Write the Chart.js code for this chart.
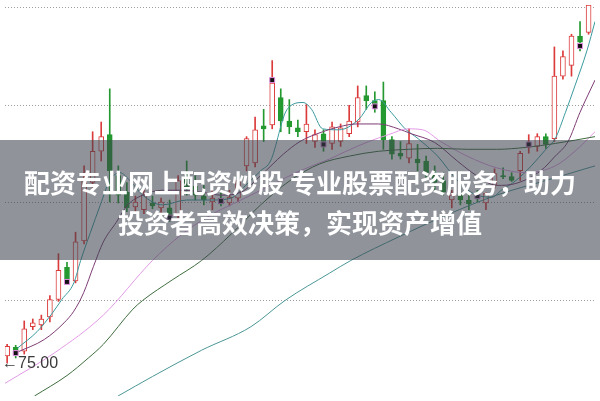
<!DOCTYPE html>
<html>
<head>
<meta charset="utf-8">
<script src="https://cdn.jsdelivr.net/npm/chart.js@4/dist/chart.umd.min.js"></script>
<style>
  html, body { margin: 0; padding: 0; background: #fff; }
  #wrap { position: relative; width: 600px; height: 401px; overflow: hidden; }
  #banner {
    position: absolute; left: 0; top: 140px; width: 600px; height: 120px;
    box-sizing: border-box; padding-top: 22px;
    background: rgba(60, 66, 77, 0.57); color: #fff;
    font: bold 26px "Noto Sans CJK SC", sans-serif; line-height: 39.5px; text-align: center;
  }
  #lowLabel { position: absolute; left: 2px; top: 358px; font: 16px "Liberation Sans", Arial, sans-serif; color: #3a3a3a; white-space: nowrap; }
</style>
</head>
<body>
<div id="wrap">
  <canvas id="kChart"></canvas>
  <div id="banner">配资专业网上配资炒股 专业股票配资服务，助力<br>投资者高效决策，实现资产增值</div>
  <div id="lowLabel"></div>
</div>
<script>
const opens  = [75.35,75.8,75.6,76.85,76.95,77.35,78.25,79.9,79.2,81.25,84.25,85.85,86.7,84.6,83.75,83.0,82.85,83.2,82.95,82.95,82.65,84.6,84.05,83.55,83.25,83.45,83.2,83.45,85.1,85.25,87.15,87.2,88.6,87.4,87.05,86.85,86.35,86.75,86.25,86.35,86.75,87.35,88.7,88.45,88.45,86.45,85.75,85.5,85.45,85.35,84.75,84.35,83.35,83.6,83.35,83.6,83.2,84.1,84.6,84.55,84.85,86.05,86.1,86.6,86.5,89.7,90.25,91.75,91.95];
const highs  = [75.95,75.9,77.15,77.25,77.45,78.45,80.6,80.15,81.7,85.1,86.85,87.35,89.05,85.1,84.25,83.55,83.85,83.55,83.45,83.35,84.6,85.35,84.6,84.1,83.85,83.75,83.85,84.6,86.6,87.6,88.0,90.5,89.05,88.5,87.45,88.25,86.95,86.95,87.35,87.25,88.2,89.2,89.2,88.9,89.4,86.6,86.35,87.0,86.2,85.6,85.1,84.75,83.85,83.95,83.75,83.85,83.75,84.95,85.0,84.75,85.85,86.7,86.75,86.75,91.2,91.0,91.85,92.5,93.6];
const lows   = [75.0,75.25,75.45,76.7,76.7,77.1,78.15,79.05,79.1,81.1,83.85,85.35,83.25,83.2,82.75,82.75,82.65,82.9,82.65,82.25,82.45,83.6,83.35,83.1,82.85,83.05,83.05,83.25,84.85,85.05,86.35,87.0,86.85,86.75,86.6,86.25,86.05,85.85,85.95,86.1,86.6,87.1,88.0,87.85,85.95,85.45,85.45,85.25,84.85,84.45,83.85,83.6,82.95,83.1,82.85,83.25,82.85,83.95,84.45,84.3,84.35,85.75,85.85,86.0,86.35,89.55,89.7,91.0,91.85];
const closes = [75.85,75.55,76.75,77.05,77.25,78.25,79.75,79.3,81.2,84.35,85.85,86.6,84.85,83.6,82.95,83.25,83.6,83.05,83.25,82.55,84.35,83.95,83.6,83.35,83.45,83.15,83.5,84.35,86.5,86.95,87.0,89.35,87.4,87.1,86.85,87.25,86.7,86.35,87.1,87.05,87.4,88.6,88.45,88.25,86.45,85.7,85.6,86.25,85.25,84.75,84.25,83.75,83.6,83.35,83.15,83.4,83.7,84.7,84.55,84.35,85.75,86.25,86.6,86.2,89.7,90.7,91.75,91.45,93.35];

// moving averages: [day, price]
const ma5 = [[1.2,75.75],[3.5,76.6],[5.2,77.5],[6.4,78.25],[7.8,79.1],[8.6,80.25],[9.75,81.7],[10.9,83.1],[12,84.35],[13.2,84.75],[14.35,84.35],[15.85,83.6],[18.15,83.1],[21,83.35],[23.9,83.35],[26.2,83.45],[27.9,84.1],[29.65,84.85],[30.8,85.35],[32.75,88.0],[34.6,88.35],[35.6,88.0],[36.9,87.0],[38.8,86.95],[41.15,87.5],[42.6,88.35],[43.45,88.5],[44.9,87.85],[46.55,87.0],[48.05,86.5],[50.35,85.6],[52.65,84.35],[54.9,83.6],[56.7,83.5],[57.8,83.85],[59.5,84.35],[61.3,85.1],[63,85.95],[64.1,86.5],[65.3,87.85],[66.4,89.2],[67.8,91.0],[68.75,92.5]];
const ma10 = [[1.2,75.55],[4.35,76.2],[6.65,77.05],[7.8,77.65],[8.95,78.6],[10.1,79.95],[11.25,81.2],[12.75,82.2],[14.1,83.1],[15.85,83.6],[18.15,83.85],[20.45,83.85],[22.75,83.75],[25,83.6],[27.35,83.75],[29.65,84.6],[32.3,85.7],[34.25,86.35],[36.9,86.85],[38.8,87.1],[40.8,87.25],[43.45,87.25],[45.75,87.0],[47.25,86.75],[50,86.3],[52.65,85.35],[54.9,84.6],[57.25,84.1],[59.5,84.2],[62.4,84.85],[64.1,85.6],[65.6,86.35],[67,87.85],[68.75,89.5]];
const ma20 = [[-0.25,73.95],[5.5,75.5],[11.25,77.45],[17,80.25],[20.45,81.6],[23.9,82.6],[27.35,83.35],[30.8,84.1],[34.25,84.85],[37.7,85.45],[39.65,85.85],[42.3,86.35],[44.6,86.7],[46.9,87.0],[48.6,86.95],[50.7,86.35],[53.8,85.6],[57.25,85.0],[60.7,84.75],[64.1,85.1],[66.4,85.85],[68.75,86.85]];
const ma30 = [[3.2,73.3],[7,74.35],[9.5,75.25],[11.25,75.95],[14.7,77.75],[15.85,78.2],[19.3,79.25],[22.75,80.25],[26.2,81.6],[29.65,83.1],[33.1,84.35],[36.55,85.2],[40,85.6],[43.45,85.85],[46.9,85.95],[50.35,86.0],[53.8,85.95],[57.25,85.95],[60.7,86.05],[64.1,86.25],[68.75,86.6]];
const ma60 = [[12.97,73.3],[17,74.3],[22.75,75.65],[28.5,76.85],[32.5,78.2],[37.7,79.6],[40.2,80.25],[45.75,81.45],[51.5,82.6],[57.25,83.6],[63,84.35],[68.75,85.1]];

// signal markers: [day, price]
const signals = [[1,75.5],[7,79.15],[19,82.45],[25,83.3],[31,89.5],[37,86.2],[43,88.15],[55,83.55],[61,86.2],[67,91.25]];

const gridTicks = [78.2, 83.2, 88.2, 93.2];
const lowMark = Math.min(...lows);

const days = opens.map((_, i) => i);
const red = '#dc3b3b';
const green = '#23992f';
const isUp = i => closes[i] >= opens[i];

const lineSet = (data, color) => ({
    type: 'line',
    data: data.map(([x, y]) => ({ x, y })),
    borderColor: color,
    borderWidth: 1,
    pointRadius: 0,
    cubicInterpolationMode: 'monotone',
    order: 0
});

const labelPlugin = {
    id: 'lowLabel',
    afterDraw(chart) {
        const el = document.getElementById('lowLabel');
        el.textContent = '←' + lowMark.toFixed(2);
        const y = chart.scales.y.getPixelForValue(lowMark);
        el.style.top = (y - el.offsetHeight / 2) + 'px';
    }
};

new Chart(document.getElementById('kChart'), {
    type: 'bar',
    data: {
        datasets: [
            lineSet(ma60, '#4b9696'),
            lineSet(ma30, '#3e6d3e'),
            lineSet(ma20, '#e39ae6'),
            lineSet(ma10, '#7d3c74'),
            lineSet(ma5, '#3a9a9d'),
            {
                type: 'line',
                data: signals.map(([x, y]) => ({ x, y })),
                showLine: false,
                pointStyle: 'rect',
                pointRadius: 3.5,
                backgroundColor: '#111',
                borderColor: '#e08ce0',
                borderWidth: 1,
                order: -1
            },
            {
                data: days.map(i => ({ x: i, y: [opens[i], closes[i]] })),
                backgroundColor: days.map(i => isUp(i) ? '#ffffff' : green),
                borderColor: days.map(i => isUp(i) ? red : green),
                borderWidth: 1,
                borderSkipped: false,
                barThickness: 5,
                grouped: false,
                order: 1
            },
            {
                data: days.map(i => ({ x: i, y: [lows[i], highs[i]] })),
                backgroundColor: days.map(i => isUp(i) ? red : green),
                barThickness: 1,
                grouped: false,
                order: 2
            }
        ]
    },
    options: {
        responsive: true,
        maintainAspectRatio: false,
        animation: false,
        layout: { padding: 0 },
        plugins: { legend: { display: false }, tooltip: { enabled: false } },
        scales: {
            x: { type: 'linear', min: -0.25, max: 68.75, offset: false, display: false },
            y: {
                min: 73.3,
                max: 93.35,
                afterBuildTicks: axis => { axis.ticks = gridTicks.map(v => ({ value: v })); },
                ticks: { display: false },
                grid: { color: '#9c9c9c', lineWidth: 1, drawTicks: false },
                border: { display: false, dash: [1, 2] }
            }
        }
    },
    plugins: [labelPlugin]
});
</script>
</body>
</html>
